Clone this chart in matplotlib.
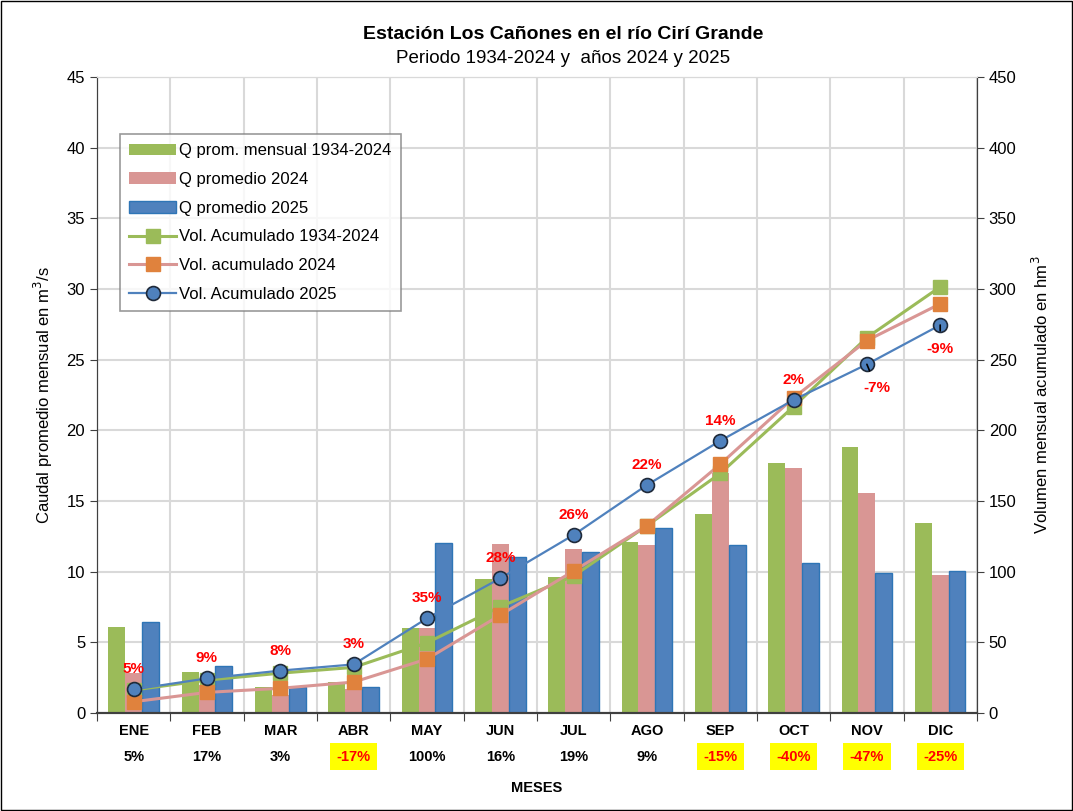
import numpy as np
import matplotlib.pyplot as plt
from matplotlib.transforms import blended_transform_factory

plt.rcParams['font.family'] = ['Liberation Sans', 'DejaVu Sans']

meses = ['ENE', 'FEB', 'MAR', 'ABR', 'MAY', 'JUN', 'JUL', 'AGO', 'SEP', 'OCT', 'NOV', 'DIC']

# caudales promedio mensuales (m3/s)
q_hist = [6.1, 2.88, 1.86, 2.22, 6.0, 9.5, 9.6, 12.08, 14.08, 17.71, 18.8, 13.42]
q_2024 = [2.85, 2.0, 1.27, 1.67, 6.0, 11.96, 11.58, 11.87, 16.96, 17.36, 15.59, 9.77]
q_2025 = [6.43, 3.35, 1.86, 1.82, 12.03, 11.06, 11.39, 13.12, 11.89, 10.64, 9.89, 10.07]

# volumen acumulado (hm3)
vol_hist = [16.3, 23.3, 28.2, 32.3, 49.7, 75.2, 97.0, 132.5, 169.5, 216.8, 265.6, 301.5]
vol_2024 = [8.0, 14.6, 17.5, 21.9, 38.2, 69.3, 100.5, 132.5, 176.0, 223.0, 263.5, 289.5]
vol_2025 = [16.7, 24.5, 30.0, 34.4, 67.0, 95.3, 126.0, 161.3, 192.6, 221.5, 246.7, 274.5]

pct_vol = ['5%', '9%', '8%', '3%', '35%', '28%', '26%', '22%', '14%', '2%', '-7%', '-9%']
pct_mes = ['5%', '17%', '3%', '-17%', '100%', '16%', '19%', '9%', '-15%', '-40%', '-47%', '-25%']

verde = '#9BBB59'
rosa = '#D99694'
azul = '#4F81BD'
naranja = '#E0823D'
grid_col = '#D9D9D9'

fig = plt.figure(figsize=(10.73, 8.11), dpi=100)
ax = fig.add_axes([0.0904, 0.1208, 0.820, 0.7843])
ax2 = ax.twinx()

x = np.arange(len(meses))
w = 0.23
b1 = ax.bar(x - w, q_hist, w, color=verde, label='Q prom. mensual 1934-2024', zorder=2)
b2 = ax.bar(x, q_2024, w, color=rosa, label='Q promedio 2024', zorder=2)
b3 = ax.bar(x + w, q_2025, w, color=azul, edgecolor='#2E75B6', linewidth=1,
            label='Q promedio 2025', zorder=2)

l1, = ax2.plot(x, vol_hist, color=verde, lw=2.2, marker='s', ms=10, mfc=verde, mec=verde,
               label='Vol. Acumulado 1934-2024')
l2, = ax2.plot(x, vol_2024, color=rosa, lw=2.2, marker='s', ms=10, mfc=naranja, mec=naranja,
               label='Vol. acumulado 2024')
l3, = ax2.plot(x, vol_2025, color=azul, lw=1.6, marker='o', ms=10, mfc=azul, mec='#1F2A3A',
               mew=1.2, label='Vol. Acumulado 2025')

ax.set_xlim(-0.5, 11.5)
ax.set_ylim(0, 45)
ax2.set_ylim(0, 450)
ax.set_yticks(np.arange(0, 46, 5))
ax2.set_yticks(np.arange(0, 451, 50))
ax.set_xticks(np.arange(-0.5, 12, 1))
ax.set_xticklabels([])
ax.tick_params(axis='x', length=6, color='#404040')
ax.tick_params(axis='y', labelsize=12, length=5, color='#404040')
ax2.tick_params(axis='y', labelsize=12, length=5, color='#404040')

ax.grid(True, color=grid_col, lw=1.5, zorder=0)
ax.set_axisbelow(True)
for a in (ax, ax2):
    a.spines['top'].set_color(grid_col)
    a.spines['left'].set_color('#404040')
    a.spines['right'].set_color('#404040')
    a.spines['bottom'].set_color('#404040')
    a.spines['bottom'].set_linewidth(1.5)

ax.set_ylabel('Caudal promedio mensual en m$^3$/s', fontsize=12, labelpad=8)
ax2.set_ylabel('Volumen mensual acumulado en hm$^3$', fontsize=12, labelpad=10)

# porcentajes sobre la curva 2025
for i, t in enumerate(pct_vol):
    if i < 10:
        ax2.annotate(t, (x[i], vol_2025[i]), xytext=(0, 20), textcoords='offset pixels',
                     ha='center', va='center', color='red', fontsize=11, fontweight='bold')
    else:
        dx = 10 if i == 10 else 0
        ax2.annotate(t, (x[i], vol_2025[i]), xytext=(dx, -24), textcoords='offset pixels',
                     ha='center', va='center', color='red', fontsize=11, fontweight='bold',
                     arrowprops=dict(arrowstyle='-', color='black', lw=1.2, shrinkA=6, shrinkB=0))

# etiquetas de meses y porcentajes
tr = blended_transform_factory(ax.transData, ax.transAxes)
for i, m in enumerate(meses):
    ax.text(x[i], -0.028, m, transform=tr, ha='center', va='center', fontsize=10.5,
            fontweight='bold')
    if pct_mes[i].startswith('-'):
        ax.text(x[i], -0.069, pct_mes[i], transform=tr, ha='center', va='center',
                fontsize=10.5, fontweight='bold', color='red',
                bbox=dict(boxstyle='square,pad=0.45', facecolor='yellow', edgecolor='none'))
    else:
        ax.text(x[i], -0.069, pct_mes[i], transform=tr, ha='center', va='center',
                fontsize=10.5, fontweight='bold')
ax.text(0.5, -0.118, 'MESES', transform=ax.transAxes, ha='center', va='center',
        fontsize=10.5, fontweight='bold')

fig.text(0.525, 0.958, 'Estación Los Cañones en el río Cirí Grande', ha='center', va='center',
         fontsize=14, fontweight='bold')
fig.text(0.525, 0.928, 'Periodo 1934-2024 y  años 2024 y 2025', ha='center', va='center',
         fontsize=13.5)

leg = ax2.legend(handles=[b1, b2, b3, l1, l2, l3], loc='upper left',
                 bbox_to_anchor=(0.017, 0.923), fontsize=12, frameon=True, fancybox=False,
                 edgecolor='#808080', handlelength=2.8, labelspacing=0.82, handletextpad=0.2,
                 borderpad=0.55)
leg.get_frame().set_linewidth(1.2)

fig.patches.append(plt.Rectangle((0.001, 0.001), 0.998, 0.998, transform=fig.transFigure,
                                 fill=False, edgecolor='black', lw=1))

fig.savefig('out.png', dpi=100)
